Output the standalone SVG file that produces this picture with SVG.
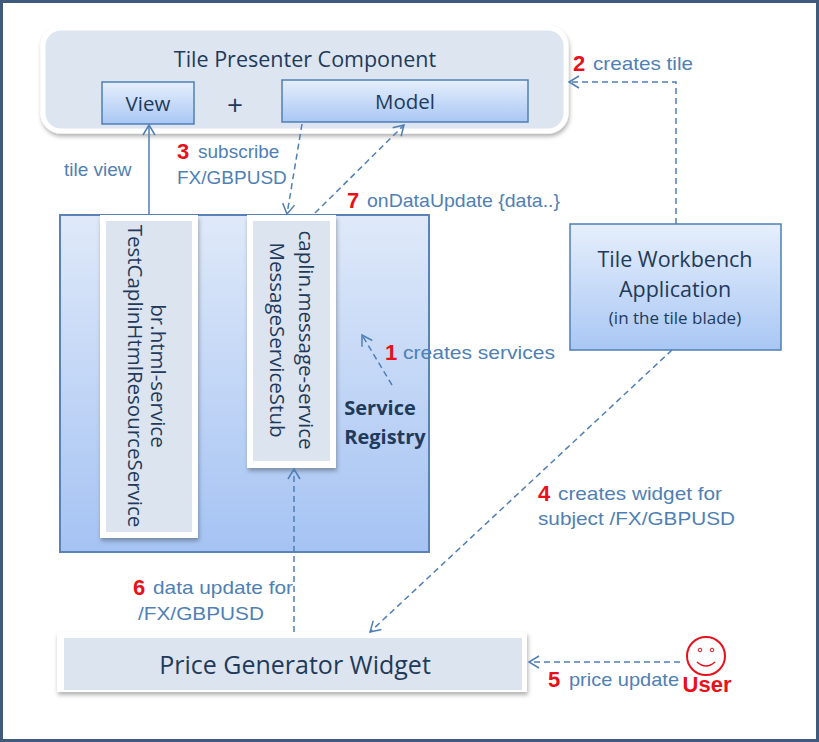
<svg xmlns="http://www.w3.org/2000/svg" width="819" height="742" viewBox="0 0 819 742">
<style>
.t{font-family:"Liberation Sans",Arial,sans-serif;font-size:19px;fill:#4f7fb5}
.n{font-family:"Liberation Sans",Arial,sans-serif;font-size:22px;font-weight:bold;fill:#e8101a}
.c{font-family:"Open Sans","DejaVu Sans",sans-serif;fill:#1f3a5a}
.box{fill:url(#g);stroke:#4f7fb5;stroke-width:1.5}
.ln{fill:none;stroke:#4f7fb5;stroke-width:1.5}
.d{stroke-dasharray:6 4}
</style>
<defs>
<linearGradient id="g" x1="0" y1="0" x2="0" y2="1"><stop offset="0" stop-color="#e6effc"/><stop offset="1" stop-color="#a9c7f4"/></linearGradient>
<linearGradient id="g2" x1="0" y1="0" x2="0" y2="1"><stop offset="0" stop-color="#dfe9f9"/><stop offset="1" stop-color="#a5c3f3"/></linearGradient>
<filter id="sh" x="-10%" y="-10%" width="120%" height="130%"><feDropShadow dx="1" dy="3" stdDeviation="2" flood-color="#000" flood-opacity="0.3"/></filter>
<marker id="a" markerWidth="14" markerHeight="14" refX="11" refY="7" orient="auto" markerUnits="userSpaceOnUse"><path d="M1,1 L11,7 L1,13" fill="none" stroke="#4f7fb5" stroke-width="1.5"/></marker>
</defs>
<rect x="1.5" y="1.5" width="816" height="739" fill="#fff" stroke="#3f5a7a" stroke-width="3"/>
<g id="tile-presenter">
<rect x="43" y="28" width="523" height="103" rx="18" fill="#dde5f0" stroke="#fff" stroke-width="5" filter="url(#sh)"/>
<text x="305" y="67" class="c" font-size="21.5" text-anchor="middle">Tile Presenter Component</text>
</g>
<g id="view"><rect x="102" y="82" width="92" height="42" class="box"/><text x="148" y="111" class="c" font-size="20.5" text-anchor="middle">View</text></g>
<text x="235" y="115" class="c" font-size="28" text-anchor="middle">+</text>
<g id="model"><rect x="282" y="80" width="246" height="42" class="box"/><text x="405" y="109" class="c" font-size="20.5" text-anchor="middle">Model</text></g>
<g id="service-registry">
<rect x="60" y="215" width="369" height="337" fill="url(#g2)" stroke="#5a82b5" stroke-width="2"/>
<text x="380" y="415" class="c" font-size="20" font-weight="bold" text-anchor="middle">Service</text>
<text x="385" y="444" class="c" font-size="20" font-weight="bold" text-anchor="middle">Registry</text>
</g>
<g id="html-service">
<rect x="100" y="215" width="98" height="323" fill="#fff" filter="url(#sh)"/>
<rect x="106" y="221" width="86" height="311" fill="#dce4ef"/>
<text transform="translate(151,376) rotate(90)" class="c" font-size="20.5" text-anchor="middle">br.html-service</text>
<text transform="translate(128,376) rotate(90)" class="c" font-size="20.5" text-anchor="middle">TestCaplinHtmlResourceService</text>
</g>
<g id="message-service">
<rect x="247" y="215" width="89" height="253" fill="#fff" filter="url(#sh)"/>
<rect x="253" y="221" width="77" height="240" fill="#dce4ef"/>
<text transform="translate(299,340) rotate(90)" class="c" font-size="20.5" text-anchor="middle">caplin.message-service</text>
<text transform="translate(270,340) rotate(90)" class="c" font-size="20.5" text-anchor="middle">MessageServiceStub</text>
</g>
<g id="workbench">
<rect x="570" y="224" width="211" height="126" class="box"/>
<text x="675" y="267" class="c" font-size="21.5" text-anchor="middle">Tile Workbench</text>
<text x="675" y="297" class="c" font-size="21.5" text-anchor="middle">Application</text>
<text x="675" y="324" class="c" font-size="17" text-anchor="middle">(in the tile blade)</text>
</g>
<g id="price-generator">
<rect x="57" y="632" width="470" height="60" fill="#fff" filter="url(#sh)"/>
<rect x="64" y="638" width="458" height="52" fill="#dce4ef"/>
<text x="295" y="674" class="c" font-size="25" text-anchor="middle">Price Generator Widget</text>
</g>
<g id="user">
<circle cx="706" cy="656" r="19" fill="#fff" stroke="#e8101a" stroke-width="2"/>
<circle cx="700" cy="650" r="1.8" fill="none" stroke="#e8101a"/><circle cx="712" cy="650" r="1.8" fill="none" stroke="#e8101a"/>
<path d="M697,662 Q706,670 715,662" fill="none" stroke="#e8101a" stroke-width="1.5"/>
<text x="707" y="692" class="n" font-size="19" text-anchor="middle">User</text>
</g>
<g id="connectors">
<path d="M149,215 V125" class="ln" marker-end="url(#a)"/>
<path d="M302,124 L287,214" class="ln d" marker-end="url(#a)"/>
<path d="M315,213 L404,125" class="ln d" marker-end="url(#a)"/>
<path d="M676,224 V82 H569" class="ln d" marker-end="url(#a)"/>
<path d="M392,385 L362,335" class="ln d" marker-end="url(#a)"/>
<path d="M672,350 L370,632" class="ln d" marker-end="url(#a)"/>
<path d="M294,632 V469" class="ln d" marker-end="url(#a)"/>
<path d="M680,662 H529" class="ln d" marker-end="url(#a)"/>
</g>
<g id="labels">
<text x="64" y="176" class="t">tile view</text>
<text x="177" y="159" class="n">3</text><text x="198" y="158" class="t">subscribe</text>
<text x="177" y="184" class="t">FX/GBPUSD</text>
<text x="347" y="208" class="n">7</text><text x="367" y="207" class="t" textLength="193" lengthAdjust="spacingAndGlyphs">onDataUpdate {data..}</text>
<text x="573" y="71" class="n">2</text><text x="593" y="70" class="t" textLength="100" lengthAdjust="spacingAndGlyphs">creates tile</text>
<text x="385" y="360" class="n">1</text><text x="403" y="359" class="t" textLength="152" lengthAdjust="spacingAndGlyphs">creates services</text>
<text x="538" y="501" class="n">4</text><text x="558" y="500" class="t" textLength="164" lengthAdjust="spacingAndGlyphs">creates widget for</text>
<text x="538" y="525" class="t" textLength="197" lengthAdjust="spacingAndGlyphs">subject /FX/GBPUSD</text>
<text x="133" y="595" class="n">6</text><text x="153" y="594" class="t" textLength="140" lengthAdjust="spacingAndGlyphs">data update for</text>
<text x="138" y="620" class="t" textLength="126" lengthAdjust="spacingAndGlyphs">/FX/GBPUSD</text>
<text x="548" y="687" class="n">5</text><text x="569" y="686" class="t" textLength="110" lengthAdjust="spacingAndGlyphs">price update</text>
</g>
</svg>
